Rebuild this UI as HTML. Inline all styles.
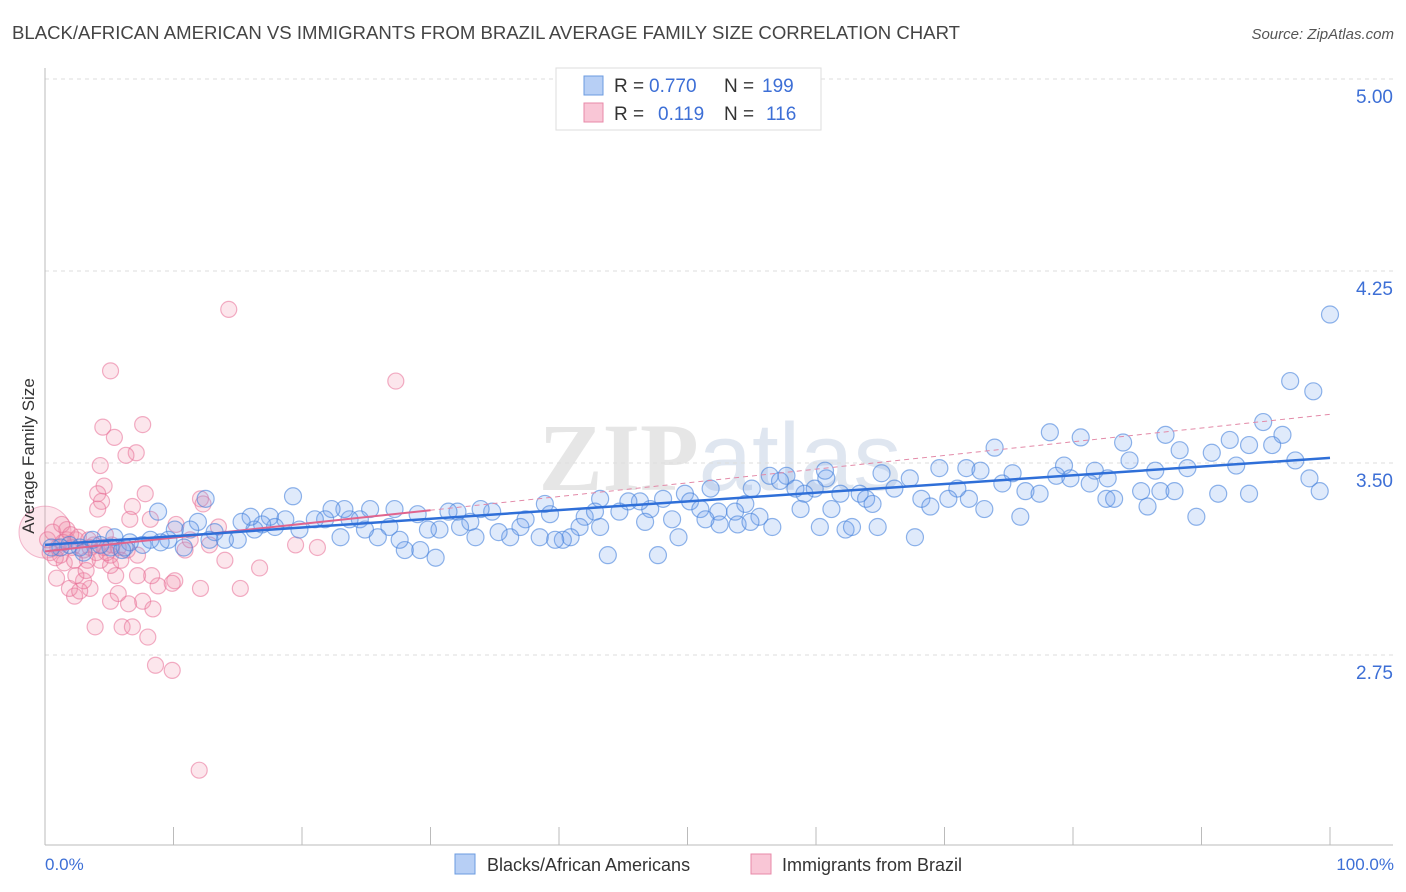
<!DOCTYPE html>
<html><head><meta charset="utf-8">
<style>
body{margin:0;background:#fff;font-family:"Liberation Sans",sans-serif;}
#wrap{position:relative;width:1406px;height:892px;overflow:hidden;}
</style></head>
<body>
<div id="wrap">
<svg id="svg" width="1406" height="892" xmlns="http://www.w3.org/2000/svg">
<text x="12" y="39" font-size="18.3" fill="#444" textLength="948" lengthAdjust="spacingAndGlyphs">BLACK/AFRICAN AMERICAN VS IMMIGRANTS FROM BRAZIL AVERAGE FAMILY SIZE CORRELATION CHART</text>
<text x="1394" y="39" font-size="15" fill="#555" text-anchor="end" font-style="italic">Source: ZipAtlas.com</text>
<text x="720" y="490" font-size="96" fill="#e6e6e6" text-anchor="middle" font-family="Liberation Serif" font-weight="bold">ZIP<tspan font-family="Liberation Sans" font-weight="normal" fill="#dfe6f0">atlas</tspan></text>
<g id="grid"></g>
<g id="axes"></g>
<g id="pink"></g>
<g id="blue"></g>
<g id="trend"></g>
<text transform="translate(34,456) rotate(-90)" font-size="17" fill="#333" text-anchor="middle">Average Family Size</text>
<text x="45" y="870" font-size="17" fill="#3d6fd6">0.0%</text>
<text x="1394" y="870" font-size="17" fill="#3d6fd6" text-anchor="end">100.0%</text>
<g>
<rect x="556" y="68" width="265" height="62" fill="#fff" stroke="#ddd"/>
<rect x="584" y="76" width="19" height="19" fill="#b7cff5" stroke="#6b9be0"/>
<rect x="584" y="103" width="19" height="19" fill="#f9c6d6" stroke="#e889a8"/>
<text x="614" y="92" font-size="19" fill="#333">R =</text>
<text x="649" y="92" font-size="19" fill="#3d6fd6">0.770</text>
<text x="724" y="92" font-size="19" fill="#333">N =</text>
<text x="762" y="92" font-size="19" fill="#3d6fd6">199</text>
<text x="614" y="120" font-size="19" fill="#333">R =</text>
<text x="658" y="120" font-size="19" fill="#3d6fd6">0.119</text>
<text x="724" y="120" font-size="19" fill="#333">N =</text>
<text x="766" y="120" font-size="19" fill="#3d6fd6">116</text>
</g>
<g>
<rect x="455" y="854" width="20" height="20" fill="#b7cff5" stroke="#6b9be0"/>
<text x="487" y="871" font-size="18" fill="#333">Blacks/African Americans</text>
<rect x="751" y="854" width="20" height="20" fill="#f9c6d6" stroke="#e889a8"/>
<text x="782" y="871" font-size="18" fill="#333">Immigrants from Brazil</text>
</g>
</svg>
</div>
<script>
const yTicks=[2.75,3.5,4.25,5.0];
const yTickLabels=["2.75","3.50","4.25","5.00"];
const xTicks=[0,10,20,30,40,50,60,70,80,90,100];
const blueX=[100,96.9,98.7,94.8,96.3,87.2,78.2,80.6,73.9,83.9,92.2,93.7,95.5,97.3,88.3,90.8,84.4,79.3,92.7,88.9,86.4,81.7,75.3,71.7,72.8,69.6,78.7,79.8,74.5,76.3,77.4,82.7,81.3,85.3,86.8,87.9,91.3,93.7,98.4,99.2,82.6,83.2,85.8,89.6,75.9,73.1,71.9,71,70.3,68.2,68.9,66.1,65.1,67.3,63.4,63.9,64.4,61.9,60.8,60.7,59.9,59.1,58.8,61.2,57.7,56.4,57.2,58.4,55,54.5,53.7,55.6,51.8,49.8,50.2,51,52.4,52.5,53.9,54.9,51.4,56.6,60.3,62.3,62.8,64.8,67.7,48.1,47.1,46.3,45.4,44.7,43.2,46.7,48.8,49.3,47.7,43.8,43.2,42,42.8,41.6,40.9,40.3,39.7,38.5,38.9,39.3,37.4,37,36.2,35.3,34.8,33.9,33.1,33.5,32.1,31.4,32.3,30.7,29.8,29,30.4,29.2,28,27.6,26.8,25.9,27.2,25.3,24.5,24.9,23.7,23.3,22.3,21.8,21,23,19.3,19.8,18.7,17.5,17.9,16.9,16.3,16,15.3,15,14,13.2,12.8,11.9,11.3,10.8,10.1,9.6,8.8,8.2,7.6,6.6,6.2,5.4,5.1,4.3,3.7,2.7,1.9,1.2,0.5,12.5,3,6,9];
const blueY=[4.08,3.82,3.78,3.66,3.61,3.61,3.62,3.60,3.56,3.58,3.59,3.57,3.57,3.51,3.55,3.54,3.51,3.49,3.49,3.48,3.47,3.47,3.46,3.48,3.47,3.48,3.45,3.44,3.42,3.39,3.38,3.44,3.42,3.39,3.39,3.39,3.38,3.38,3.44,3.39,3.36,3.36,3.33,3.29,3.29,3.32,3.36,3.40,3.36,3.36,3.33,3.40,3.46,3.44,3.38,3.36,3.34,3.38,3.44,3.47,3.40,3.38,3.32,3.32,3.45,3.45,3.43,3.40,3.40,3.34,3.31,3.29,3.40,3.38,3.35,3.32,3.31,3.26,3.26,3.27,3.28,3.25,3.25,3.24,3.25,3.25,3.21,3.36,3.32,3.35,3.35,3.31,3.36,3.27,3.28,3.21,3.14,3.14,3.25,3.29,3.31,3.25,3.21,3.20,3.20,3.21,3.34,3.30,3.28,3.25,3.21,3.23,3.31,3.32,3.27,3.21,3.31,3.31,3.25,3.24,3.24,3.30,3.13,3.16,3.16,3.20,3.25,3.21,3.32,3.32,3.28,3.24,3.28,3.32,3.32,3.28,3.28,3.21,3.37,3.24,3.28,3.29,3.25,3.26,3.24,3.29,3.27,3.20,3.20,3.23,3.20,3.27,3.24,3.17,3.24,3.20,3.31,3.20,3.18,3.19,3.17,3.21,3.17,3.18,3.20,3.17,3.18,3.17,3.17,3.36,3.15,3.16,3.19];
const pinkX=[14.3,27.3,5.1,4.5,7.6,5.4,7.1,6.3,4.3,4.6,4.1,4.4,4.1,7.8,6.8,6.6,12.1,12.3,10.2,8.2,13.5,10.9,11.3,12.8,14,16.7,19.5,21.2,15.2,12.1,10.1,9.9,8.8,8.3,7.2,5.5,5.1,7.6,6.5,5.1,8.4,5.7,3.5,3.9,6,6.8,8,8.6,9.9,12,2.3,1.9,2.7,3,2.4,1.5,3.3,4.3,5.1,0.9,1.2,0.2,0.6,1,1.7,2.1,2.4,3.0,3.5,4.0,4.6,5.2,5.7,1.7,1.3,2.3,3.2,4.7,5.9,0.4,1.4,2.6,3.8,6.4,7.2,0.8,2.0,3.4,4.8];
const pinkY=[4.10,3.82,3.86,3.64,3.65,3.60,3.54,3.53,3.49,3.41,3.38,3.35,3.32,3.38,3.33,3.28,3.36,3.34,3.26,3.28,3.25,3.16,3.20,3.18,3.12,3.09,3.18,3.17,3.01,3.01,3.04,3.03,3.02,3.06,3.06,3.06,3.10,2.96,2.95,2.96,2.93,2.99,3.01,2.86,2.86,2.86,2.82,2.71,2.69,2.30,2.98,3.01,3.00,3.04,3.06,3.11,3.12,3.12,3.14,3.05,3.14,3.20,3.23,3.17,3.20,3.17,3.20,3.16,3.17,3.15,3.17,3.18,3.17,3.24,3.26,3.12,3.08,3.22,3.12,3.15,3.19,3.21,3.18,3.16,3.14,3.13,3.22,3.20,3.15];
const blueTrend=[3.18,3.52];
const pinkTrend=[3.155,3.69];
const L=45,R=1330,T=79;
function xs(p){return L+(R-L)*p/100;}
function ys(v){return T+(5-v)*256;}
const NS="http://www.w3.org/2000/svg";
function mk(tag,parent,attrs){const e=document.createElementNS(NS,tag);for(const k in attrs)e.setAttribute(k,attrs[k]);parent.appendChild(e);return e;}
const grid=document.getElementById('grid'),axes=document.getElementById('axes');
yTicks.forEach((v,i)=>{
 const g=mk('line',grid,{x1:L,x2:1393,y1:ys(v),y2:ys(v),stroke:'#ddd','stroke-dasharray':'4,4'});
 
 
 const t=mk('text',axes,{x:1393,y:ys(v)+24,'font-size':19,fill:'#3d6fd6','text-anchor':'end'});
 t.textContent=yTickLabels[i];
 
 
});
const ax=mk('line',axes,{x1:L,x2:1393,y1:845,y2:845,stroke:'#bbb'});


const ay=mk('line',axes,{x1:L,x2:L,y1:68,y2:845,stroke:'#bbb'});


xTicks.forEach(p=>{
 const t=mk('line',axes,{x1:xs(p),x2:xs(p),y1:827,y2:845,stroke:'#bbb'});
 
 
});
const pg=document.getElementById('pink');
const big=mk('circle',pg,{cx:xs(0),cy:ys(3.23),r:26,fill:'rgba(240,140,170,0.22)',stroke:'rgba(232,120,160,0.5)'});


pinkX.forEach((x,i)=>{
 const c=mk('circle',pg,{cx:xs(x),cy:ys(pinkY[i]),r:8,fill:'rgba(240,140,170,0.22)',stroke:'rgba(232,110,150,0.55)','stroke-width':1.2});
 
 
});
const bg=document.getElementById('blue');
blueX.forEach((x,i)=>{
 const c=mk('circle',bg,{cx:xs(x),cy:ys(blueY[i]),r:8.5,fill:'rgba(110,160,235,0.22)',stroke:'rgba(70,130,220,0.6)','stroke-width':1.2});
 
 
});
const tg=document.getElementById('trend');
const pd=mk('line',tg,{x1:xs(0),y1:ys(pinkTrend[0]),x2:xs(100),y2:ys(pinkTrend[1]),stroke:'#e38aa8','stroke-width':1,'stroke-dasharray':'5,4'});


const pEnd=30;
const ps=mk('line',tg,{x1:xs(0),y1:ys(pinkTrend[0]),x2:xs(pEnd),y2:ys(pinkTrend[0]+(pinkTrend[1]-pinkTrend[0])*pEnd/100),stroke:'#e0648e','stroke-width':2});


const bl=mk('line',tg,{x1:xs(0),y1:ys(blueTrend[0]),x2:xs(100),y2:ys(blueTrend[1]),stroke:'#2f6fd8','stroke-width':2.5});


</script>
</body></html>
